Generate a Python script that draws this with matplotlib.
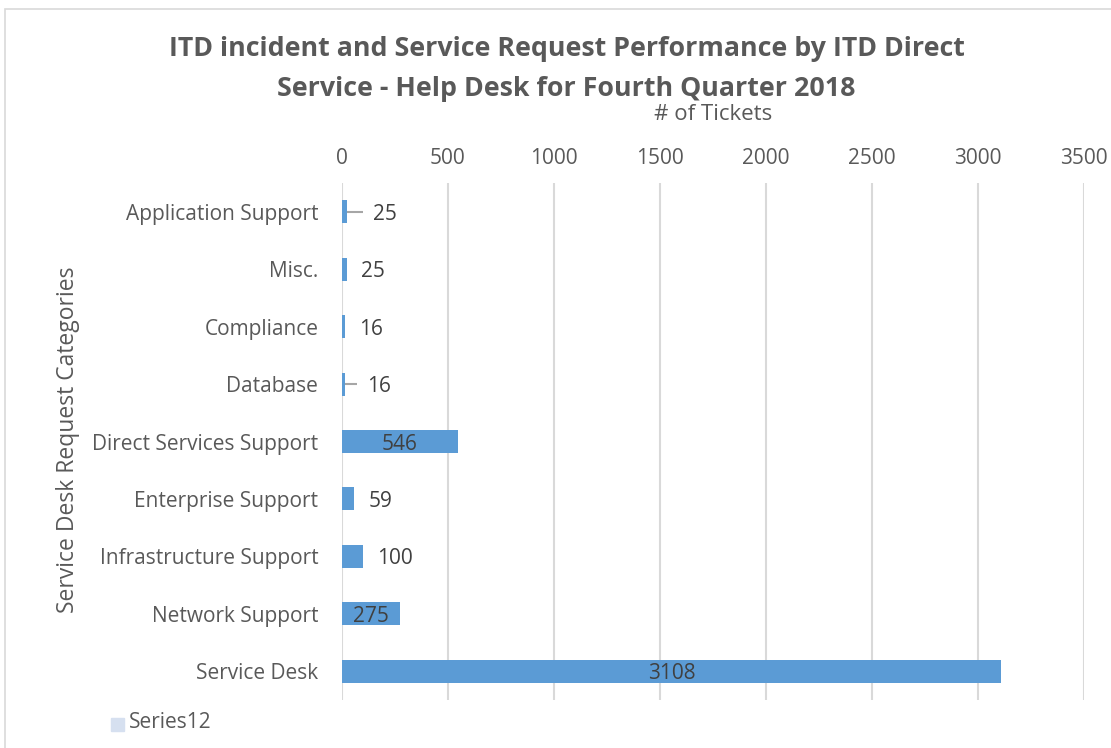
import matplotlib.pyplot as plt
from matplotlib.patches import Rectangle

categories = ['Application Support', 'Misc.', 'Compliance', 'Database',
              'Direct Services Support', 'Enterprise Support',
              'Infrastructure Support', 'Network Support', 'Service Desk']
tickets = [25, 25, 16, 16, 546, 59, 100, 275, 3108]
err = [75, 0, 0, 55, 0, 0, 0, 0, 0]
inside = [False, False, False, False, True, False, False, True, True]

plt.rcParams['font.family'] = ['Open Sans', 'DejaVu Sans']
text_color = '#595959'

fig = plt.figure(figsize=(11.11, 7.48), dpi=100)
ax = fig.add_axes([0.3078, 0.0642, 0.668, 0.6911])

y = list(range(len(categories)))
ax.barh(y, tickets, height=0.4, color='#5b9bd5', zorder=3)
ax.errorbar(tickets, y, xerr=[[0] * len(err), err], fmt='none',
            ecolor='#a6a6a6', elinewidth=1.5, capsize=0, zorder=2)

for yi, val, e, ins in zip(y, tickets, err, inside):
    if ins:
        ax.text(val / 2, yi, str(val), ha='center', va='center_baseline',
                fontsize=15, color='#404040', zorder=4)
    else:
        # label after the bar (or after the error line when there is one)
        off = 7 if e else 10
        ax.annotate(str(val), (val + e, yi), xytext=(off, 0),
                    textcoords='offset points', ha='left', va='center_baseline',
                    fontsize=15, color='#404040', zorder=4)

ax.set_xlim(0, 3500)
ax.set_ylim(len(categories) - 0.5, -0.5)
ax.set_xticks(range(0, 3501, 500))
ax.set_yticks(y)
ax.set_yticklabels(categories)
ax.xaxis.tick_top()
ax.tick_params(axis='both', length=0, labelsize=15, colors=text_color)
ax.tick_params(axis='y', pad=17)
ax.tick_params(axis='x', pad=10)
ax.grid(axis='x', color='#d9d9d9', linewidth=1.5, zorder=0)
for s in ax.spines.values():
    s.set_visible(False)

fig.text(713 / 1111, 1 - 115 / 748, '# of Tickets', ha='center', va='center',
         fontsize=16, color=text_color)
fig.text(68 / 1111, 1 - 440 / 748, 'Service Desk Request Categories',
         rotation=90, ha='center', va='center', fontsize=16.5, color=text_color)

fig.text(0.51, 1 - 69 / 748, 'ITD incident and Service Request Performance by ITD Direct\n'
         'Service - Help Desk for Fourth Quarter 2018',
         ha='center', va='center', fontsize=19.3, fontweight='bold',
         color=text_color, linespacing=1.7)

# legend
fig.patches.append(Rectangle((111 / 1111, 1 - 731 / 748), 13 / 1111, 13 / 748,
                             transform=fig.transFigure, color='#d6e0f0'))
fig.text(129 / 1111, 1 - 723 / 748, 'Series12', ha='left', va='center',
         fontsize=15, color=text_color)

# chart border
fig.patches.append(Rectangle((5 / 1111, -0.01), 1.2, 1 - 9 / 748 + 0.01,
                             transform=fig.transFigure, fill=False,
                             edgecolor='#d9d9d9', linewidth=1.2))

fig.savefig('out.png', dpi=100)
